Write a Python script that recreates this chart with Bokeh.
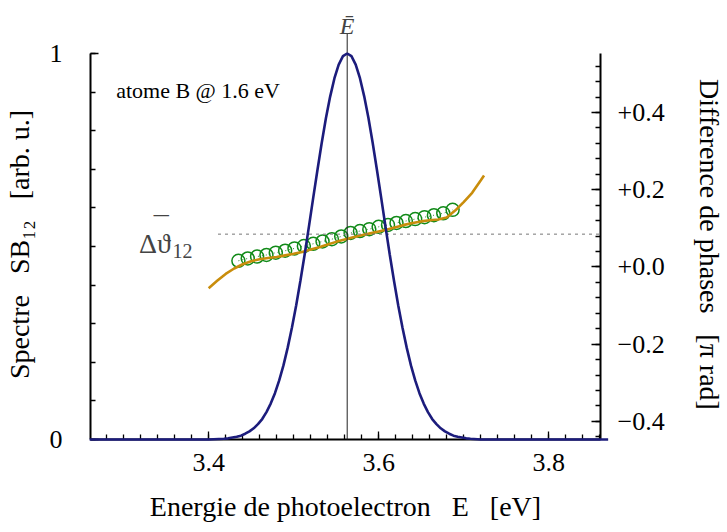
from bokeh.plotting import figure
from bokeh.models import Range1d, LinearAxis, FixedTicker, Label, Arrow
from bokeh.embed import file_html
from bokeh.resources import INLINE

FONT = "Liberation Serif"
NB = "\u00a0"
ZW = "\u200b"
SP = NB * 3

# ---------------- data ----------------
spectrum_E = [3.26, 3.40,
              3.418, 3.423, 3.428, 3.433, 3.438, 3.443, 3.448, 3.453, 3.458, 3.463,
              3.468, 3.473, 3.478, 3.483, 3.488, 3.493, 3.498, 3.503, 3.508, 3.513,
              3.518, 3.523, 3.528, 3.533, 3.538, 3.543, 3.548, 3.553, 3.558, 3.563,
              3.568, 3.573, 3.578, 3.583, 3.588, 3.593, 3.598, 3.603, 3.608, 3.613,
              3.618, 3.623, 3.628, 3.633, 3.638, 3.643, 3.648, 3.653, 3.658, 3.663,
              3.668, 3.673, 3.678, 3.683, 3.688, 3.693, 3.698, 3.703, 3.708,
              3.72, 3.87]
spectrum_S = [0.0, 0.0,
              0.002, 0.003, 0.005, 0.007, 0.010, 0.015, 0.021, 0.029, 0.040, 0.053,
              0.071, 0.093, 0.120, 0.153, 0.192, 0.238, 0.290, 0.348, 0.412, 0.480,
              0.552, 0.626, 0.698, 0.768, 0.833, 0.889, 0.936, 0.971, 0.993, 1.000,
              0.993, 0.971, 0.936, 0.889, 0.833, 0.768, 0.698, 0.626, 0.552, 0.480,
              0.412, 0.348, 0.290, 0.238, 0.192, 0.153, 0.120, 0.093, 0.071, 0.053,
              0.040, 0.029, 0.021, 0.015, 0.010, 0.007, 0.005, 0.003, 0.002,
              0.0, 0.0]

phase_E = [3.400, 3.410, 3.420, 3.430, 3.440, 3.450, 3.460, 3.470, 3.480, 3.490,
           3.500, 3.510, 3.520, 3.530, 3.540, 3.550, 3.560, 3.570, 3.580, 3.590,
           3.600, 3.610, 3.620, 3.630, 3.640, 3.650, 3.660, 3.670, 3.680, 3.690,
           3.700, 3.710, 3.720, 3.724]
phase_fit = [-0.055, -0.036, -0.018, -0.004, 0.007, 0.015, 0.020, 0.023, 0.026, 0.030,
             0.034, 0.039, 0.045, 0.051, 0.058, 0.065, 0.071, 0.077, 0.082, 0.087,
             0.092, 0.097, 0.103, 0.109, 0.114, 0.118, 0.121, 0.123, 0.128, 0.146,
             0.168, 0.192, 0.224, 0.237]

points_E = [3.435, 3.446, 3.457, 3.468, 3.479, 3.490, 3.501, 3.512, 3.523, 3.534,
            3.545, 3.556, 3.567, 3.578, 3.589, 3.600, 3.611, 3.621, 3.632, 3.643,
            3.654, 3.665, 3.676, 3.687]
points_phase = [0.016, 0.022, 0.027, 0.031, 0.037, 0.042, 0.048, 0.054, 0.060, 0.066,
                0.072, 0.079, 0.088, 0.093, 0.098, 0.104, 0.109, 0.114, 0.119, 0.124,
                0.129, 0.134, 0.139, 0.148]

E_bar = 3.563
phase_bar = 0.085
phase_bar_start = 3.411

x_major = [3.4, 3.6, 3.8]
x_labels = ["3.4", "3.6", "3.8"]
left_major = [0, 1]
left_labels = ["0", "1"]
right_major = [-0.4, -0.2, 0.0, 0.2, 0.4]
right_labels = ["\u22120.4", "\u22120.2", "+0.0", "+0.2", "+0.4"]

# axis extents (the frame reaches above them, to hold the E-bar marker)
S_lo, S_hi = 0.0, 1.0
P_lo, P_hi = -0.447, 0.553
top_extra = 0.1373   # frame room above S_hi, in spectrum units

# ---------------- figure ----------------
p = figure(width=727, height=532, output_backend="svg", toolbar_location=None,
           x_range=Range1d(3.261, 3.861), y_range=Range1d(S_lo, S_hi + top_extra),
           min_border_left=89, min_border_right=122, min_border_top=0,
           min_border_bottom=93)
p.outline_line_color = None
p.xgrid.grid_line_color = None
p.ygrid.grid_line_color = None
p.background_fill_color = "white"
p.border_fill_color = "white"
p.extra_y_ranges = {"phase": Range1d(P_lo, P_hi + top_extra * (P_hi - P_lo))}

right_axis = LinearAxis(y_range_name="phase")
p.add_layout(right_axis, "right")

x_minor = [round(3.28 + 0.02 * k, 2) for k in range(30)]
left_minor = [round(0.1 * k, 1) for k in range(11)]
right_minor = [round(-0.44 + 0.04 * k, 2) for k in range(25)]

p.xaxis[0].ticker = FixedTicker(ticks=x_major, minor_ticks=x_minor)
p.xaxis[0].major_label_overrides = {v: s for v, s in zip(x_major, x_labels)}
p.yaxis[0].ticker = FixedTicker(ticks=left_major, minor_ticks=left_minor)
p.yaxis[0].major_label_overrides = {v: s for v, s in zip(left_major, left_labels)}
p.yaxis[0].bounds = (S_lo, S_hi)
right_axis.ticker = FixedTicker(ticks=right_major, minor_ticks=right_minor)
right_axis.major_label_overrides = {v: s for v, s in zip(right_major, right_labels)}
right_axis.bounds = (P_lo, P_hi)

for ax in [p.xaxis[0], p.yaxis[0], right_axis]:
    ax.axis_line_width = 2
    ax.axis_line_color = "black"
    ax.major_tick_out = 0
    ax.minor_tick_out = 0
    ax.major_tick_in = 8
    ax.minor_tick_in = 5
    ax.major_tick_line_width = 1.3
    ax.minor_tick_line_width = 1.3
    ax.major_tick_line_color = "black"
    ax.minor_tick_line_color = "black"
    ax.major_label_text_font = FONT
    ax.major_label_text_font_size = "26px"
    ax.major_label_text_color = "black"
    ax.axis_label_text_font = FONT
    ax.axis_label_text_font_size = "28px"
    ax.axis_label_text_font_style = "normal"
    ax.axis_label_text_color = "black"

right_axis.major_tick_in = 9
p.xaxis[0].major_label_standoff = 14
p.yaxis[0].major_label_standoff = 28
right_axis.major_label_standoff = 17

# labels are centred on the frame; padding shifts them to the middle of the axes
p.xaxis[0].axis_label = "Energie de photoelectron" + SP + "E" + SP + "[eV]"
p.xaxis[0].axis_label_standoff = 17
p.yaxis[0].axis_label = ("Spectre" + SP + "SB\u2081\u2082" + SP + "[arb. u.]"
                         + NB * 7 + ZW)
p.yaxis[0].axis_label_standoff = 12
right_axis.axis_label = ZW + NB * 7 + "Difference de phases" + SP + "[\u03c0 rad]"
right_axis.axis_label_standoff = 26

# ---------------- glyphs ----------------
p.line(points_E, points_phase, line_color="#2e7d2e", line_width=1,
       line_dash="1 3", y_range_name="phase")
p.scatter(points_E, points_phase, marker="circle", size=13, fill_color=None,
          line_color="#118a18", line_width=1.5, y_range_name="phase")
p.line(phase_E, phase_fit, line_color="#c98d0c", line_width=2.6,
       y_range_name="phase")
blue = p.line(spectrum_E, spectrum_S, line_color="#1c1c7c", line_width=2.6)
blue.level = "overlay"

# vertical line at E_bar and dotted line at phase_bar
p.add_layout(Arrow(x_start=E_bar, y_start=-0.05, x_end=E_bar, y_end=1.052,
                   start=None, end=None, line_color="#222222", line_width=1))
p.add_layout(Arrow(x_start=phase_bar_start, y_start=phase_bar, x_end=3.861,
                   y_end=phase_bar, start=None, end=None, line_color="#777777",
                   line_width=1, line_dash="3 4", y_range_name="phase"))

# ---------------- texts ----------------
def dlabel(x, y, text, size, style="normal", color="black", align="left"):
    p.add_layout(Label(x=x, y=y, text=text, text_align=align,
                       text_baseline="alphabetic", text_font=FONT,
                       text_font_style=style, text_font_size=size,
                       text_color=color))

dlabel(E_bar, 1.0725, "\u0112", "24px", "italic", "#444444", "center")
dlabel(3.2912, 0.904, "atome B @ 1.6 eV", "22px")
dlabel(3.318, 0.508, "\u0394\u03d1", "28px", color="#444444")
dlabel(3.3355, 0.552, "\u00af", "30px", color="#444444")
dlabel(3.3575, 0.4896, "12", "20px", color="#444444")

open("out.html", "w").write(file_html(p, INLINE))
